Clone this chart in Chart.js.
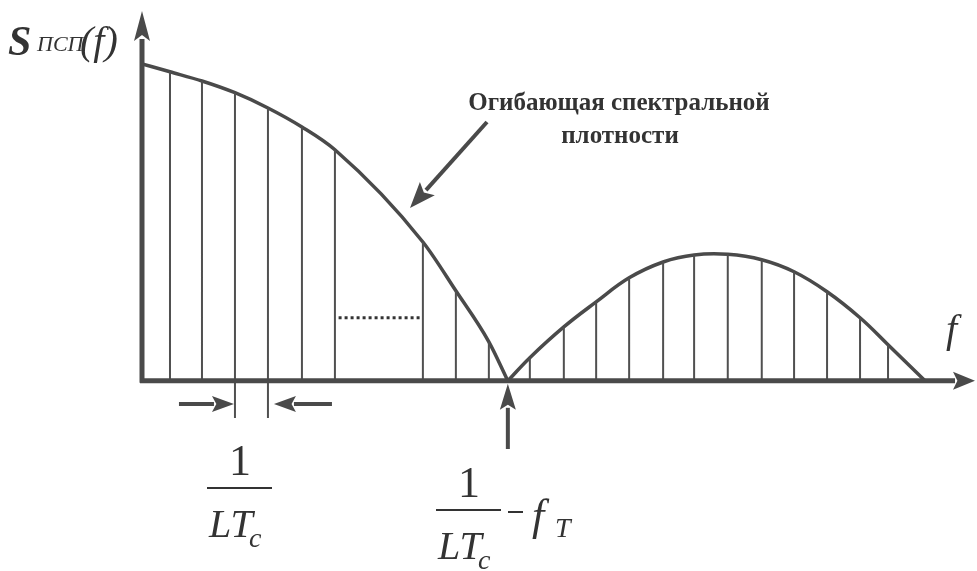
<!DOCTYPE html>
<html lang="ru">
<head>
<meta charset="utf-8">
<title>Спектральная плотность ПСП</title>
<script src="https://cdn.jsdelivr.net/npm/chart.js@4.4.1/dist/chart.umd.min.js"></script>
<style>
  html, body { margin: 0; padding: 0; background: #fff; }
  #spectr { display: block; }
</style>
</head>
<body>
<canvas id="spectr" width="977" height="571"></canvas>
<script>
// огибающая, главный лепесток (частота в единицах 1/LTc)
const envMainF = [0, 0.84, 1.8, 2.79, 3.78, 4.8, 5.79, 8.43, 9.42, 10.41, 10.98];
const envMainS = [1.0, 0.975, 0.946, 0.909, 0.861, 0.801, 0.729, 0.438, 0.284, 0.123, 0];

// огибающая, боковой лепесток
const envSideF = [10.98, 11.64, 12.66, 13.63, 14.62, 15.64, 16.57, 17.58, 18.6, 19.57, 20.56, 21.55, 22.39, 23.5];
const envSideS = [0, 0.073, 0.17, 0.249, 0.325, 0.375, 0.397, 0.399, 0.382, 0.344, 0.281, 0.199, 0.114, 0];

// спектральные линии
const lineF = [0.84, 1.8, 2.79, 3.78, 4.8, 5.79, 8.43, 9.42, 10.41,
               11.64, 12.66, 13.63, 14.62, 15.64, 16.57, 17.58, 18.6, 19.57, 20.56, 21.55, 22.39];
const lineS = [0.975, 0.946, 0.909, 0.861, 0.801, 0.729, 0.438, 0.284, 0.123,
               0.073, 0.17, 0.249, 0.325, 0.375, 0.397, 0.399, 0.382, 0.344, 0.281, 0.199, 0.114];

// линии, отмечающие интервал 1/LTc (уходят под ось)
const markF = [2.79, 3.78];
const markLow = -0.117;

// пропущенные линии (пунктир)
const gapF = [5.9, 8.35];
const gapS = 0.199;

// точка нуля огибающей
const zeroF = 10.98;
const fMax = 25;

const INK = '#4a4a4a';
const TEXT = '#333';

function pts(fs, ss) {
    return fs.map((f, i) => ({ x: f, y: ss[i] }));
}

// вертикальные отрезки, разделённые разрывами
function sticks(fs, lo, his) {
    const out = [];
    fs.forEach((f, i) => {
        out.push({ x: f, y: lo }, { x: f, y: Array.isArray(his) ? his[i] : his }, { x: f, y: null });
    });
    return out;
}

function arrow(ctx, x1, y1, x2, y2, w, len, half) {
    const a = Math.atan2(y2 - y1, x2 - x1);
    const bx = x2 - Math.cos(a) * len, by = y2 - Math.sin(a) * len;
    ctx.lineWidth = w;
    ctx.beginPath();
    ctx.moveTo(x1, y1);
    ctx.lineTo(bx + Math.cos(a) * 2, by + Math.sin(a) * 2);
    ctx.stroke();
    ctx.beginPath();
    ctx.moveTo(x2, y2);
    ctx.lineTo(bx - Math.sin(a) * half, by + Math.cos(a) * half);
    ctx.lineTo(bx + Math.cos(a) * len * 0.2, by + Math.sin(a) * len * 0.2);
    ctx.lineTo(bx + Math.sin(a) * half, by - Math.cos(a) * half);
    ctx.closePath();
    ctx.fill();
}

// оси, стрелки и подписи
const decor = {
    id: 'decor',
    afterDatasetsDraw(chart) {
        const ctx = chart.ctx;
        const sx = chart.scales.x, sy = chart.scales.y;
        const x0 = sx.getPixelForValue(0), y0 = sy.getPixelForValue(0);
        const xMax = sx.getPixelForValue(fMax);
        const xz = sx.getPixelForValue(zeroF);

        ctx.save();
        ctx.strokeStyle = INK;
        ctx.fillStyle = INK;
        ctx.lineCap = 'butt';

        // оси
        arrow(ctx, x0, y0 + 2, x0, 11, 5, 30, 8);
        arrow(ctx, x0 - 2, y0, xMax, y0, 5, 22, 9);

        // интервал 1/LTc
        const ya = sy.getPixelForValue(-0.073);
        const xa = sx.getPixelForValue(markF[0]), xb = sx.getPixelForValue(markF[1]);
        arrow(ctx, xa - 56, ya, xa - 1, ya, 4, 22, 8);
        arrow(ctx, xb + 64, ya, xb + 6, ya, 4, 22, 8);

        // стрелка к точке нуля
        arrow(ctx, xz, 449, xz, y0 + 3, 4, 26, 8);

        // стрелка к огибающей
        arrow(ctx, 487, 122, 410, 208, 4, 26, 10);

        ctx.fillStyle = TEXT;
        ctx.strokeStyle = TEXT;
        ctx.textBaseline = 'alphabetic';

        // подпись оси ординат
        ctx.textAlign = 'left';
        ctx.font = 'italic bold 42px "Liberation Serif"';
        ctx.fillText('S', 8, 55);
        ctx.font = 'italic 22px "Liberation Serif"';
        ctx.fillText('ПСП', 37, 51);
        ctx.font = 'italic 40px "Liberation Serif"';
        ctx.fillText('(f)', 80, 54);

        // подпись оси абсцисс
        ctx.fillText('f', 946, 342);

        // пояснение к огибающей
        ctx.textAlign = 'center';
        ctx.font = 'bold 25px "Liberation Serif"';
        ctx.fillText('Огибающая спектральной', 619, 110);
        ctx.fillText('плотности', 620, 143);

        // дробь 1/LTc
        function frac(cx, top) {
            ctx.textAlign = 'center';
            ctx.font = '44px "Liberation Serif"';
            ctx.fillText('1', cx, top + 32);
            ctx.lineWidth = 2;
            ctx.beginPath();
            ctx.moveTo(cx - 33, top + 45);
            ctx.lineTo(cx + 32, top + 45);
            ctx.stroke();
            ctx.textAlign = 'left';
            ctx.font = 'italic 40px "Liberation Serif"';
            ctx.fillText('LT', cx - 31, top + 94);
            ctx.font = 'italic 28px "Liberation Serif"';
            ctx.fillText('c', cx + 9, top + 104);
        }
        frac(240, 443);
        frac(469, 465);

        // «− fT»
        ctx.lineWidth = 2;
        ctx.beginPath();
        ctx.moveTo(508, 512);
        ctx.lineTo(523, 512);
        ctx.stroke();
        ctx.textAlign = 'left';
        ctx.font = 'italic 44px "Liberation Serif"';
        ctx.fillText('f', 532, 530);
        ctx.font = 'italic 28px "Liberation Serif"';
        ctx.fillText('T', 555, 537);

        ctx.restore();
    }
};

new Chart(document.getElementById('spectr'), {
    type: 'line',
    data: {
        datasets: [
            {
                label: 'линии',
                data: sticks(lineF, 0, lineS),
                borderColor: '#505050',
                borderWidth: 2,
                spanGaps: false
            },
            {
                label: 'отметки',
                data: sticks(markF, markLow, 0),
                borderColor: '#505050',
                borderWidth: 2,
                spanGaps: false
            },
            {
                label: 'пропуск',
                data: [{ x: gapF[0], y: gapS }, { x: gapF[1], y: gapS }],
                borderColor: '#333',
                borderWidth: 3,
                borderDash: [3, 3]
            },
            {
                label: 'огибающая 1',
                data: pts(envMainF, envMainS),
                borderColor: INK,
                borderWidth: 3.5,
                cubicInterpolationMode: 'monotone'
            },
            {
                label: 'огибающая 2',
                data: pts(envSideF, envSideS),
                borderColor: INK,
                borderWidth: 3.5,
                tension: 0.4
            }
        ]
    },
    options: {
        responsive: false,
        animation: false,
        events: [],
        layout: { padding: { left: 142, right: 2, top: 10, bottom: 0 } },
        elements: { point: { radius: 0 } },
        plugins: { legend: { display: false }, tooltip: { enabled: false } },
        scales: {
            x: { type: 'linear', min: 0, max: fMax, display: false },
            y: { type: 'linear', min: -0.6, max: 1.17, display: false }
        }
    },
    plugins: [decor]
});
</script>
</body>
</html>
